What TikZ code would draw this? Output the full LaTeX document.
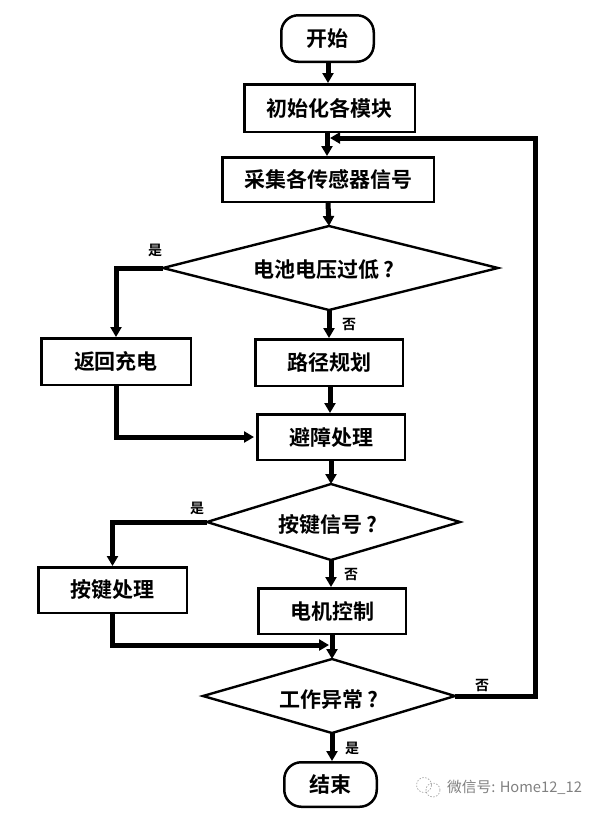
\documentclass[tikz,border=0pt]{standalone}
\usepackage{fontspec}
\setmainfont{Noto Sans CJK SC}[BoldFont={Noto Sans CJK SC Bold}]
\usetikzlibrary{arrows.meta}
\tikzset{
 boxn/.style={draw=black,line width=2.5pt,inner sep=0pt,font=\fontsize{21}{23}\selectfont\bfseries},
 term/.style={boxn,rounded corners=17pt},
 lnk/.style={line width=5pt,-{Triangle[length=10pt,width=11pt]}},
 lab/.style={font=\fontsize{14}{15}\selectfont\bfseries,inner sep=0pt},
 dtext/.style={inner sep=0pt,font=\fontsize{21}{23}\selectfont\bfseries},
 wm/.style={draw=black!35,line width=0.7pt,dash pattern=on 1.5pt off 1.5pt},
}
% name, left x, right x, top/bottom x, top y, bottom y
\newcommand{\dia}[6]{%
 \coordinate (#1 l) at (#2,{(#5+#6)/2});
 \coordinate (#1 r) at (#3,{(#5+#6)/2});
 \coordinate (#1 t) at (#4,#5);
 \coordinate (#1 b) at (#4,#6);
 \draw[line width=2.4pt,line join=miter] (#1 l)--(#1 t)--(#1 r)--(#1 b)--cycle;
}
\begin{document}
\begin{tikzpicture}[x=1pt,y=-1pt]
\useasboundingbox (0,0) rectangle (600,815);
\node[term,minimum width=92.5pt,minimum height=46.5pt] (start) at (327.5,38.5) {开始};
\node[boxn,minimum width=170.5pt,minimum height=47.5pt] (init) at (329.5,108) {初始化各模块};
\node[boxn,minimum width=211.5pt,minimum height=44.5pt] (acq) at (328,179.5) {采集各传感器信号};
\dia{d1}{163}{498}{329}{226}{310}
\node[dtext] (d1t) at (324,270) {电池电压过低\,?};
\node[boxn,minimum width=147.5pt,minimum height=46.5pt] (path) at (329,362.5) {路径规划};
\node[boxn,minimum width=149.5pt,minimum height=46.5pt] (back) at (116,361.5) {返回充电};
\node[boxn,minimum width=147.5pt,minimum height=45.5pt] (avoid) at (331,437) {避障处理};
\dia{d2}{207}{460}{331}{484}{560}
\node[dtext] (d2t) at (328,525) {按键信号\,?};
\node[boxn,minimum width=148.5pt,minimum height=45.5pt] (key) at (112.5,590) {按键处理};
\node[boxn,minimum width=147.5pt,minimum height=45.5pt] (motor) at (332,611) {电机控制};
\dia{d3}{203}{455}{332}{659}{733}
\node[dtext] (d3t) at (329,700) {工作异常\,?};
\node[term,minimum width=92.5pt,minimum height=44.5pt] (end) at (330.5,784.5) {结束};
\coordinate (a1) at (328,63); \coordinate (a2) at (328,83);
\draw[lnk] (a1) -- (a2);
\coordinate (a3) at (327,133); \coordinate (a4) at (327,156);
\draw[lnk] (a3) -- (a4);
\coordinate (a5) at (328,203);
\draw[lnk] (a5) -- (d1 t);
\coordinate (s1) at (329,310);
\draw[lnk] (s1) -- (path.north);
\coordinate (a6) at (330,387); \coordinate (a7) at (330,413);
\draw[lnk] (a6) -- (a7);
\draw[lnk] (d1 l) -| (back.north);
\coordinate (entry) at (254,437);
\draw[lnk] (back.south) |- (entry);
\draw[lnk] (avoid.south -| d2 t) -- (d2 t);
\coordinate (s3) at (331,560); \coordinate (s3e) at (331,587);
\draw[lnk] (s3) -- (s3e);
\draw[lnk] (d2 l) -| (key.north);
\coordinate (join) at (329,645);
\draw[lnk] (key.south) |- (join);
\coordinate (a8) at (332,635);
\draw[lnk] (a8) -- (d3 t);
\coordinate (s4) at (332,733); \coordinate (s4e) at (332,761);
\draw[lnk] (s4) -- (s4e);
\coordinate (fbk) at (535,138);
\coordinate (fbend) at (330,138);
\draw[lnk] (d3 r) -| (fbk) -- (fbend);
\node[lab] (y1) at (155,250) {是};
\node[lab] (n1) at (349,325) {否};
\node[lab] (y2) at (197,508) {是};
\node[lab] (n2) at (351,575) {否};
\node[lab] (n3) at (482,686) {否};
\node[lab] (y3) at (352,748) {是};
\draw[wm] (424,785) circle (7.5pt);
\draw[wm] (433,790) circle (7pt);
\node[inner sep=0pt,anchor=west,text=black!50,font=\fontsize{14.7}{16}\selectfont] (wx) at (447,787) {微信号: Home12\_12};
\end{tikzpicture}
\end{document}
